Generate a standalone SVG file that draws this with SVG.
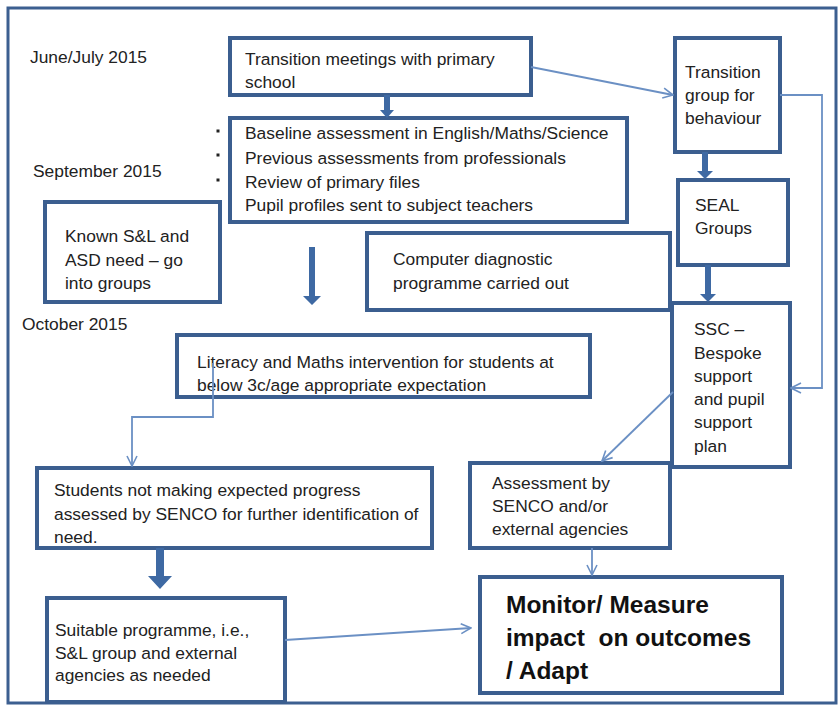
<svg xmlns="http://www.w3.org/2000/svg" width="840" height="706" viewBox="0 0 840 706">
<defs>
<style>
.box{fill:#fff;stroke:#3b5e8f;stroke-width:4}
.t{font-family:"Liberation Sans",Arial,sans-serif;font-size:17.4px;fill:#222}
.b{font-family:"Liberation Sans",Arial,sans-serif;font-size:24.5px;font-weight:bold;fill:#111}
.thin{fill:none;stroke:#6b90c4;stroke-width:1.8}
.thick{fill:#3e69a3}
</style>
<marker id="open" viewBox="0 0 12 12" refX="11" refY="6" markerWidth="12" markerHeight="12" markerUnits="userSpaceOnUse" orient="auto">
<path d="M1,1 L11,6 L1,11" fill="none" stroke="#6b90c4" stroke-width="1.6"/>
</marker>
</defs>
<rect x="0" y="0" width="840" height="706" fill="#fff"/>
<rect x="8" y="8" width="828" height="695" fill="none" stroke="#3c5f90" stroke-width="3"/>
<g id="labels">
<text class="t" x="30" y="63">June/July 2015</text>
<text class="t" x="33" y="177">September 2015</text>
<text class="t" x="22" y="330">October 2015</text>
</g>
<g id="n1"><rect class="box" x="230" y="38" width="301" height="57"/>
<text class="t" x="245" y="65">Transition meetings with primary</text>
<text class="t" x="245" y="88">school</text></g>
<g id="n2"><rect class="box" x="230" y="118" width="397" height="104"/>
<rect x="216.5" y="129.5" width="3" height="3" fill="#222"/><rect x="216.5" y="153.5" width="3" height="3" fill="#222"/><rect x="216.5" y="178.5" width="3" height="3" fill="#222"/>
<text class="t" x="245" y="139">Baseline assessment in English/Maths/Science</text>
<text class="t" x="245" y="164">Previous assessments from professionals</text>
<text class="t" x="245" y="188">Review of primary files</text>
<text class="t" x="245" y="211">Pupil profiles sent to subject teachers</text></g>
<g id="n3"><rect class="box" x="675" y="38" width="105" height="114"/>
<text class="t" x="685" y="78">Transition</text>
<text class="t" x="685" y="101">group for</text>
<text class="t" x="685" y="124">behaviour</text></g>
<g id="n4"><rect class="box" x="678" y="180" width="110" height="85"/>
<text class="t" x="695" y="211">SEAL</text>
<text class="t" x="695" y="234">Groups</text></g>
<g id="n5"><rect class="box" x="45" y="202" width="175" height="100"/>
<text class="t" x="65" y="242">Known S&amp;L and</text>
<text class="t" x="65" y="266">ASD need – go</text>
<text class="t" x="65" y="289">into groups</text></g>
<g id="n6"><rect class="box" x="367" y="233" width="303" height="77"/>
<text class="t" x="393" y="265">Computer diagnostic</text>
<text class="t" x="393" y="289">programme carried out</text></g>
<g id="n7"><rect class="box" x="672" y="303" width="118" height="164"/>
<text class="t" x="694" y="335">SSC –</text>
<text class="t" x="694" y="359">Bespoke</text>
<text class="t" x="694" y="382">support</text>
<text class="t" x="694" y="405">and pupil</text>
<text class="t" x="694" y="428">support</text>
<text class="t" x="694" y="452">plan</text></g>
<g id="n8"><rect class="box" x="177" y="335" width="413" height="62"/>
<text class="t" x="197" y="368">Literacy and Maths intervention for students at</text>
<text class="t" x="197" y="391">below 3c/age appropriate expectation</text></g>
<g id="n9"><rect class="box" x="37" y="468" width="395" height="80"/>
<text class="t" x="54" y="496">Students not making expected progress</text>
<text class="t" x="54" y="520">assessed by SENCO for further identification of</text>
<text class="t" x="54" y="543">need.</text></g>
<g id="n10"><rect class="box" x="470" y="463" width="200" height="85"/>
<text class="t" x="492" y="489">Assessment by</text>
<text class="t" x="492" y="512">SENCO and/or</text>
<text class="t" x="492" y="535">external agencies</text></g>
<g id="n11"><rect class="box" x="47" y="598" width="238" height="104"/>
<text class="t" x="55" y="636">Suitable programme, i.e.,</text>
<text class="t" x="55" y="659">S&amp;L group and external</text>
<text class="t" x="55" y="681">agencies as needed</text></g>
<g id="n12"><rect class="box" x="480" y="577" width="302" height="116"/>
<text class="b" x="506" y="613">Monitor/ Measure</text>
<text class="b" x="506" y="646" xml:space="preserve">impact  on outcomes</text>
<text class="b" x="506" y="679">/ Adapt</text></g>
<g id="connectors">
<path class="thin" d="M531,67 L673,95" marker-end="url(#open)"/>
<path class="thin" d="M780,95 L822,95 L822,388 L791,388" marker-end="url(#open)"/>
<path class="thin" d="M213,363 L213,417 L132,417 L132,466" marker-end="url(#open)"/>
<path class="thin" d="M673,392 L602,461" marker-end="url(#open)"/>
<path class="thin" d="M592,548 L592,575" marker-end="url(#open)"/>
<path class="thin" d="M285,640 L471,628" marker-end="url(#open)"/>
<path class="thick" d="M384,95 L390,95 L390,110 L394,110 L387,118 L380,110 L384,110 Z"/>
<path class="thick" d="M702,152 L708,152 L708,171 L713,171 L705,179 L697,171 L702,171 Z"/>
<path class="thick" d="M705,265 L711,265 L711,294 L716,294 L708,302 L700,294 L705,294 Z"/>
<path class="thick" d="M309,247 L315,247 L315,296 L321,296 L312,305 L303,296 L309,296 Z"/>
<path class="thick" d="M156,548 L164,548 L164,576 L172,576 L160,589 L148,576 L156,576 Z"/>
</g>
</svg>
